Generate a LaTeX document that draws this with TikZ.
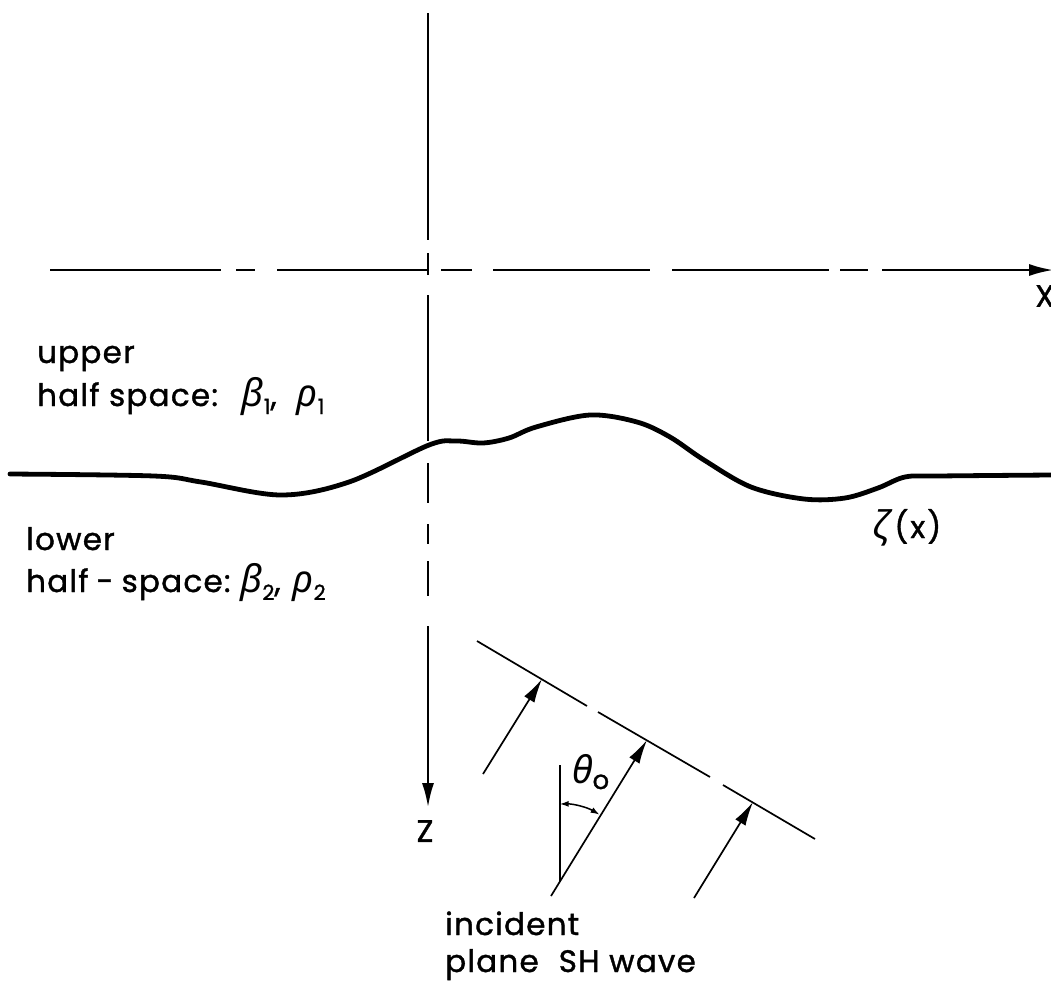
\documentclass[tikz,border=0pt]{standalone}
\usepackage{fontspec}
\setmainfont{Poppins}[FakeBold=1.2, LetterSpace=4]
\newfontfamily\grk{Noto Sans}
\usetikzlibrary{arrows.meta}
\newcommand\lowsub[1]{\raisebox{-8pt}{\fontsize{21}{21}\selectfont #1}}
\newcommand\gk[1]{{\grk\itshape\fontsize{38}{38}\selectfont #1}}
\begin{document}
\begin{tikzpicture}[x=1pt,y=-1pt,
  axisline/.style={line width=2pt},
  waveline/.style={line width=1.7pt},
  bigtip/.style={-{Latex[length=24pt,width=12pt]}},
  lbl/.style={font=\fontsize{31}{36}\selectfont, inner sep=0pt},
]
\useasboundingbox (0,0) rectangle (1051,983);

% vertical z axis
\coordinate (v0) at (428,13);   \coordinate (v1) at (428,240);
\coordinate (v2) at (428,253);  \coordinate (v3) at (428,275);
\coordinate (v4) at (428,295);  \coordinate (v5) at (428,441);
\coordinate (v6) at (428,463);  \coordinate (v7) at (428,503);
\coordinate (v8) at (428,524);  \coordinate (v9) at (428,544);
\coordinate (v10) at (428,561); \coordinate (v11) at (428,596);
\coordinate (v12) at (428,626); \coordinate (v13) at (428,807);
\draw[axisline] (v0) -- (v1);
\draw[axisline] (v2) -- (v3);
\draw[axisline] (v4) -- (v5);
\draw[axisline] (v6) -- (v7);
\draw[axisline] (v8) -- (v9);
\draw[axisline] (v10) -- (v11);
\draw[axisline,bigtip] (v12) -- (v13);

% horizontal x axis
\coordinate (h0) at (50,270);   \coordinate (h1) at (221,270);
\coordinate (h2) at (236,270);  \coordinate (h3) at (255,270);
\coordinate (h4) at (277,270);  \coordinate (h5) at (429,270);
\coordinate (h6) at (441,270);  \coordinate (h7) at (472,270);
\coordinate (h8) at (493,270);  \coordinate (h9) at (650,270);
\coordinate (h10) at (672,270); \coordinate (h11) at (829,270);
\coordinate (h12) at (840,270); \coordinate (h13) at (868,270);
\coordinate (h14) at (882,270); \coordinate (h15) at (1053,270);
\draw[axisline] (h0) -- (h1);
\draw[axisline] (h2) -- (h3);
\draw[axisline] (h4) -- (h5);
\draw[axisline] (h6) -- (h7);
\draw[axisline] (h8) -- (h9);
\draw[axisline] (h10) -- (h11);
\draw[axisline] (h12) -- (h13);
\draw[axisline,bigtip] (h14) -- (h15);

% interface zeta(x)
\draw[line width=4.8pt, line cap=round, line join=round]
  plot[smooth, tension=0.55] coordinates {
  (10,474) (154,476) (201,482) (281,495) (349,482) (429,445) (456,441)
  (483,443) (509,438) (536,427) (590,415) (637,422) (670,437) (704,460)
  (751,487) (804,499) (845,498) (878,488) (905,477) (938,476) (1051,475)};

% incident plane wave front
\coordinate (w0) at (477,641); \coordinate (w1) at (587,706);
\coordinate (w2) at (598,712); \coordinate (w3) at (710,777);
\coordinate (w4) at (723,785); \coordinate (w5) at (815,839);
\draw[waveline] (w0) -- (w1);
\draw[waveline] (w2) -- (w3);
\draw[waveline] (w4) -- (w5);

% rays
\coordinate (a1s) at (483,774); \coordinate (a1e) at (542,679);
\coordinate (P) at (561,879);   \coordinate (M) at (647,740);
\coordinate (a2s) at (551,896);
\coordinate (a3s) at (694,898); \coordinate (a3e) at (753,802);
\draw[waveline,bigtip] (a1s) -- (a1e);
\draw[waveline,bigtip] (a2s) -- (M);
\draw[waveline,bigtip] (a3s) -- (a3e);

% vertical reference and angle
\coordinate (r0) at (560,765); \coordinate (r1) at (560,882);
\draw[waveline] (r0) -- (r1);
\draw[line width=1.5pt,{Latex[length=9pt,width=6pt]}-{Latex[length=9pt,width=6pt]}]
  (P) ++(-91:75) arc[start angle=-91, end angle=-59, radius=75];

% labels
\node[lbl, anchor=base west] (upper) at (37,363) {upper};
\node[lbl, anchor=base west] (hs1) at (37,406) {half space:\kern24pt\gk{β}\lowsub{1},\kern20pt\gk{ρ}\lowsub{1}};
\node[lbl, anchor=base west] (lower) at (26,550) {lower};
\node[lbl, anchor=base west] (hs2) at (26,592) {half\kern8pt-\kern8pt space:\kern10pt\gk{β}\lowsub{2},\kern12pt\gk{ρ}\lowsub{2}};
\node[lbl, anchor=base west] (zeta) at (873,538) {\gk{ζ}\kern6pt(\kern2pt x\kern2pt)};
\node[lbl, anchor=base west] (theta) at (572,783) {\gk{θ}\raisebox{-6pt}{\fontsize{26}{26}\selectfont o}};
\node[lbl] (zlab) at (425,831) {Z};
\node[lbl, anchor=west] (xlab) at (1035,296) {X};
\node[lbl, anchor=base west] (inc1) at (445,935) {incident};
\node[lbl, anchor=base west] (inc2) at (445,972) {plane\kern20pt SH wave};
\end{tikzpicture}
\end{document}
